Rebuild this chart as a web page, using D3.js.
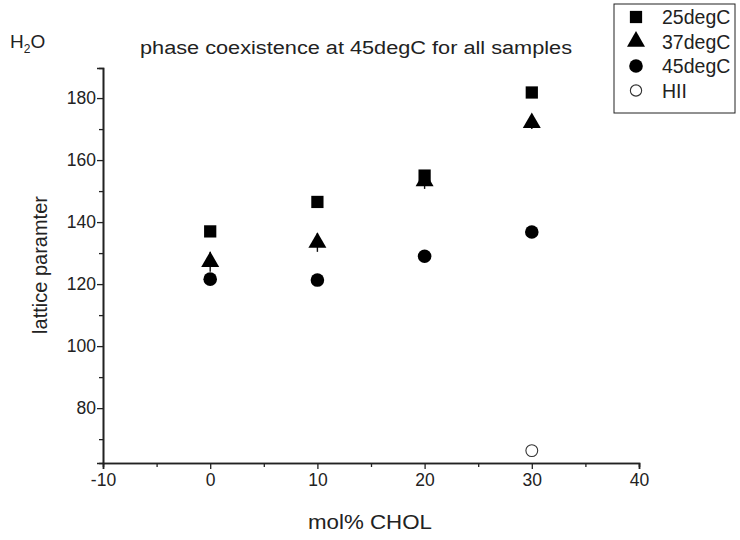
<!DOCTYPE html>
<html>
<head>
<meta charset="utf-8">
<script src="https://cdn.jsdelivr.net/npm/d3@7"></script>
<style>
  body { margin: 0; background: #fff; }
  text { font-family: "Liberation Sans", Arial, sans-serif; fill: #222; }
</style>
</head>
<body>
<div class="chart"></div>
<script>
// data
var cholPct = [0, 10, 20, 30];
var t25 = [137.0, 146.5, 155.0, 181.8];
var t37 = [127.2, 133.4, 153.2, 172.0];
var t45 = [121.6, 121.3, 129.0, 136.8];
var t37err = [3.2, 3.0, 2.5, 2.0];
var t25err = [1.0, 1.0, 1.0, 0.8];
var hiiX = [30];
var hiiY = [66.3];
var xTicks = [-10, 0, 10, 20, 30, 40];
var yTicks = [80, 100, 120, 140, 160, 180];
var legendLabels = ["25degC", "37degC", "45degC", "HII"];

var W = 740, H = 540;
var svg = d3.select(".chart").append("svg")
    .attr("width", W).attr("height", H);

var x = d3.scaleLinear().domain([-10, 40]).range([103, 639]);
var y = d3.scaleLinear().domain([62.3, 189.7]).range([463, 68]);

var fmt = function(d) { return String(d); };  // plain hyphen for negatives

// axes
var xAxis = d3.axisBottom(x).tickValues(xTicks).tickSize(6).tickPadding(5).tickFormat(fmt);
var xMinor = d3.axisBottom(x).tickValues([-5, 5, 15, 25, 35]).tickSize(4).tickFormat("");
var yAxis = d3.axisLeft(y).tickValues(yTicks).tickSize(6).tickPadding(1).tickFormat(fmt);
var yMinor = d3.axisLeft(y).tickValues([70, 90, 110, 130, 150, 170]).tickSize(4).tickFormat("");

svg.append("g").attr("transform", "translate(0,463)").call(xAxis);
svg.append("g").attr("transform", "translate(0,463)").call(xMinor);
svg.append("g").attr("transform", "translate(103,0)").call(yAxis);
svg.append("g").attr("transform", "translate(103,0)").call(yMinor);

svg.selectAll(".domain").attr("stroke", "#222").attr("stroke-width", 1.6);
svg.selectAll(".tick line").attr("stroke", "#222").attr("stroke-width", 1.3);
svg.selectAll(".tick text").style("font-size", "17.5px").attr("fill", "#222");

// labels
svg.append("text").attr("x", 370).attr("y", 529).attr("text-anchor", "middle")
  .style("font-size", "20px").attr("textLength", 124).attr("lengthAdjust", "spacingAndGlyphs")
  .text("mol% CHOL");
svg.append("text").attr("transform", "translate(47,265) rotate(-90)").attr("text-anchor", "middle")
  .style("font-size", "20px").text("lattice paramter");
svg.append("text").attr("x", 356).attr("y", 54).attr("text-anchor", "middle")
  .style("font-size", "18px").attr("textLength", 432).attr("lengthAdjust", "spacingAndGlyphs")
  .text("phase coexistence at 45degC for all samples");

var h2o = svg.append("text").attr("x", 10).attr("y", 48).style("font-size", "19px");
h2o.append("tspan").text("H");
h2o.append("tspan").attr("dy", 5).style("font-size", "12px").text("2");
h2o.append("tspan").attr("dy", -5).text("O");

// error bars
function errBars(vals, errs) {
  svg.append("g").selectAll("line").data(cholPct).enter().append("line")
    .attr("x1", function(d) { return x(d); })
    .attr("x2", function(d) { return x(d); })
    .attr("y1", function(d, i) { return y(vals[i] - errs[i]); })
    .attr("y2", function(d, i) { return y(vals[i] + errs[i]); })
    .attr("stroke", "#111").attr("stroke-width", 1.4);
}
errBars(t25, t25err);
errBars(t37, t37err);

var sq = d3.symbol().type(d3.symbolSquare).size(150);
var tri = d3.symbol().type(d3.symbolTriangle).size(140);
var circ = d3.symbol().type(d3.symbolCircle).size(145);

function plot(xs, vals, sym, filled) {
  svg.append("g").selectAll("path").data(xs).enter().append("path")
    .attr("d", sym)
    .attr("transform", function(d, i) { return "translate(" + x(d) + "," + y(vals[i]) + ")"; })
    .attr("fill", filled ? "#000" : "#fff")
    .attr("stroke", filled ? "none" : "#333")
    .attr("stroke-width", 1.1);
}
plot(cholPct, t25, sq, true);
plot(cholPct, t37, tri, true);
plot(cholPct, t45, circ, true);
plot(hiiX, hiiY, d3.symbol().type(d3.symbolCircle).size(110), false);

// legend
var lg = svg.append("g");
lg.append("rect").attr("x", 614).attr("y", 4).attr("width", 121).attr("height", 109)
  .attr("fill", "#fff").attr("stroke", "#222").attr("stroke-width", 1);
var legSyms = [sq, tri, circ, d3.symbol().type(d3.symbolCircle).size(100)];
legendLabels.forEach(function(lab, i) {
  var ly = 17 + i * 24.5;
  lg.append("path").attr("d", legSyms[i])
    .attr("transform", "translate(636," + ly + ")")
    .attr("fill", i < 3 ? "#000" : "#fff")
    .attr("stroke", i < 3 ? "none" : "#333").attr("stroke-width", 1.1);
  lg.append("text").attr("x", 662).attr("y", ly + 7).style("font-size", "19.5px").text(lab);
});
</script>
</body>
</html>
